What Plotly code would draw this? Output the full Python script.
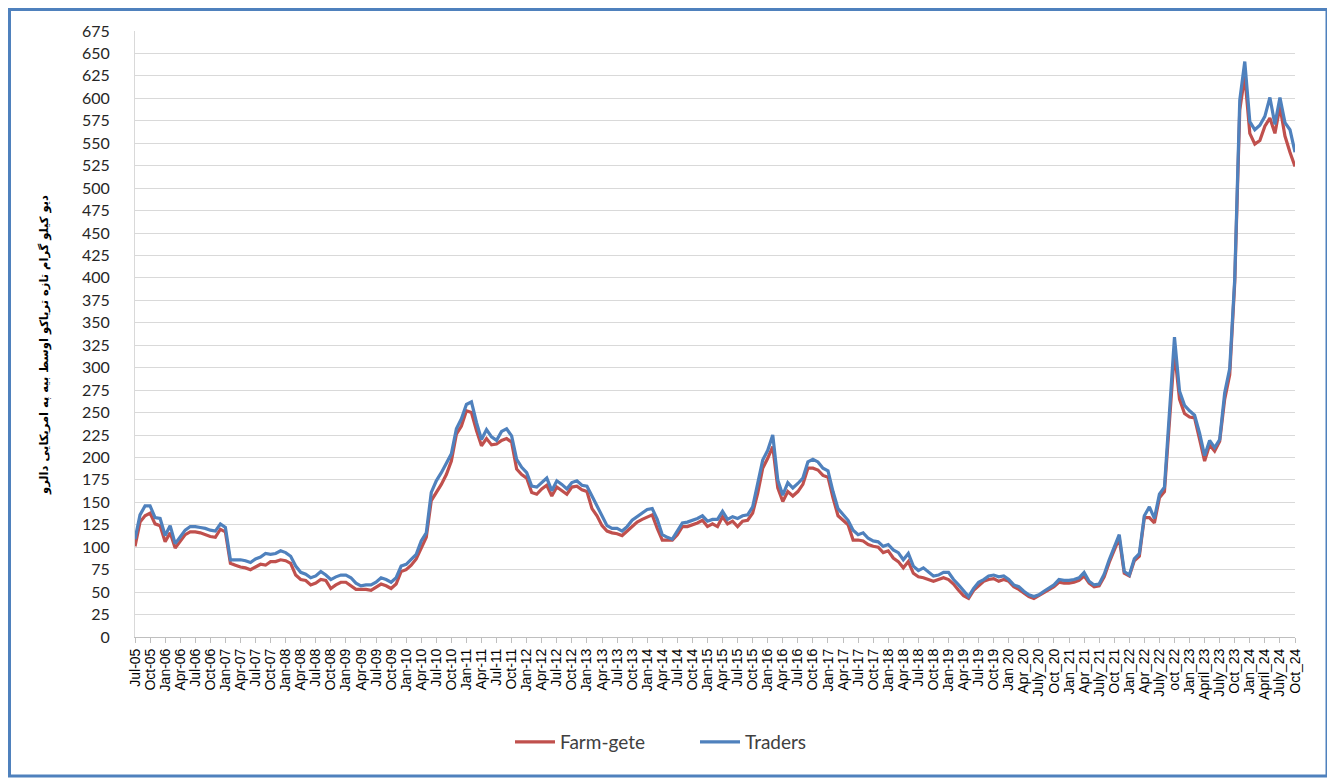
import plotly.graph_objects as go
import pandas as pd

# Monthly categories Jul-2005 .. Oct-2024
months = [d.strftime("%Y-%m") for d in pd.date_range("2005-07-01", "2024-10-01", freq="MS")]

tick_labels = [
    "Jul-05", "Oct-05",
    "Jan-06", "Apr-06", "Jul-06", "Oct-06",
    "Jan-07", "Apr-07", "Jul-07", "Oct-07",
    "Jan-08", "Apr-08", "Jul-08", "Oct-08",
    "Jan-09", "Apr-09", "Jul-09", "Oct-09",
    "Jan-10", "Apr-10", "Jul-10", "Oct-10",
    "Jan-11", "Apr-11", "Jul-11", "Oct-11",
    "Jan-12", "Apr-12", "Jul-12", "Oct-12",
    "Jan-13", "Apr-13", "Jul-13", "Oct-13",
    "Jan-14", "Apr-14", "Jul-14", "Oct-14",
    "Jan-15", "Apr-15", "Jul-15", "Oct-15",
    "Jan-16", "Apr-16", "Jul-16", "Oct-16",
    "Jan-17", "Apr-17", "Jul-17", "Oct-17",
    "Jan-18", "Apr-18", "Jul-18", "Oct-18",
    "Jan-19", "Apr-19", "Jul-19", "Oct-19",
    "Jan 20", "Apr_20", "July_20", "Oct_20",
    "Jan_21", "Apr_21", "July_21", "Oct_21",
    "Jan_22", "Apr_22", "July_22", "oct_22",
    "Jan_23", "April_23", "July_23", "Oct_23",
    "Jan_24", "April_24", "July_24", "Oct_24",
]

farm_gate = [
    101, 128, 135, 138, 126, 124, 106, 116, 99, 106, 114, 117, 117, 116, 114, 112, 111, 120, 117, 82,
    80, 78, 77, 75, 78, 81, 80, 84, 84, 86, 85, 82, 69, 64, 63, 58, 60, 64, 63, 54,
    58, 61, 61, 57, 53, 53, 53, 52, 55, 59, 57, 54, 59, 73, 75, 80, 87, 100, 111, 152,
    161, 170, 181, 196, 226, 235, 252, 250, 230, 213, 221, 214, 215, 219, 221, 217, 187, 181, 177, 161,
    159, 165, 169, 157, 167, 163, 159, 167, 168, 164, 162, 143, 135, 124, 118, 116, 115, 113, 118, 124,
    128, 131, 134, 136, 121, 108, 108, 108, 114, 123, 123, 125, 127, 130, 123, 126, 123, 134, 126, 129,
    123, 129, 130, 138, 160, 188, 199, 212, 166, 151, 162, 157, 162, 170, 188, 188, 186, 180, 178, 155,
    135, 130, 125, 108, 108, 107, 103, 101, 100, 94, 96, 88, 84, 77, 84, 71, 67, 66, 64, 62,
    64, 66, 64, 59, 52, 46, 43, 52, 57, 62, 64, 65, 62, 64, 62, 56, 53, 49, 45, 43,
    46, 50, 53, 56, 61, 60, 60, 61, 63, 68, 60, 56, 57, 67, 83, 96, 110, 71, 68, 85,
    90, 133, 133, 127, 155, 162, 245, 318, 265, 249, 245, 244, 220, 196, 214, 207, 218, 265, 292, 395,
    587, 625, 561, 549, 553, 569, 578, 561, 591, 558, 540, 524,
]

traders = [
    109, 136, 146, 146, 133, 132, 113, 124, 104, 112, 119, 123, 123, 122, 121, 119, 118, 126, 122, 86,
    86, 86, 85, 83, 87, 89, 93, 92, 93, 96, 94, 90, 79, 72, 70, 66, 68, 73, 69, 64,
    67, 69, 69, 66, 60, 57, 58, 58, 61, 66, 64, 61, 66, 79, 81, 87, 92, 107, 116, 161,
    174, 183, 193, 204, 232, 243, 259, 262, 239, 220, 231, 223, 219, 229, 232, 224, 198, 189, 183, 168,
    167, 172, 177, 163, 174, 170, 165, 172, 174, 169, 168, 157, 146, 135, 124, 121, 121, 118, 123, 130,
    134, 138, 142, 143, 131, 114, 111, 109, 118, 127, 128, 130, 132, 135, 129, 131, 131, 140, 131, 134,
    132, 135, 136, 145, 170, 197, 208, 225, 175, 158, 172, 166, 171, 177, 195, 198, 195, 188, 185, 162,
    143, 136, 130, 119, 114, 116, 110, 107, 106, 101, 103, 97, 94, 86, 93, 79, 74, 77, 73, 68,
    69, 72, 72, 64, 58, 51, 45, 54, 61, 64, 68, 69, 67, 68, 64, 58, 56, 51, 47, 45,
    47, 51, 54, 58, 64, 63, 63, 64, 66, 72, 62, 58, 59, 70, 86, 100, 114, 73, 69, 87,
    93, 135, 145, 132, 159, 167, 252, 334, 274, 258, 252, 247, 227, 202, 219, 211, 220, 272, 299, 399,
    598, 641, 574, 565, 570, 580, 601, 571, 601, 573, 565, 540,
]

y_title = "دیو کیلو گرام تازه تریاکو اوسط بیه په امریکایی دالرو"

# The page body has an 8px margin, so the figure is laid out in page px minus 8.
OFF = 8
W, H = 1335 - OFF, 780 - OFF
L, T = 135 - OFF, 31 - OFF
R = W - (1295 - OFF)
B = H - (637 - OFF)
pw, ph = W - L - R, H - T - B

def px_x(xp):
    return (xp - OFF - L) / pw

def px_y(yp):
    return (H - B - (yp - OFF)) / ph

fig = go.Figure()
fig.add_trace(go.Scatter(
    x=months, y=farm_gate, name="Farm-gete", mode="lines",
    line=dict(color="#C0504D", width=3.2),
))
fig.add_trace(go.Scatter(
    x=months, y=traders, name="Traders", mode="lines",
    line=dict(color="#4F81BD", width=3.2),
))

fig.update_layout(
    width=W, height=H,
    margin=dict(l=L, r=R, t=T, b=B, pad=0),
    paper_bgcolor="white", plot_bgcolor="white",
    showlegend=True,
    legend=dict(
        orientation="h", x=px_x(510), y=px_y(742), xanchor="left", yanchor="middle",
        font=dict(family="Lato, Open Sans, sans-serif", size=19, color="#404040"),
        entrywidth=130, entrywidthmode="pixels",
        itemwidth=40, traceorder="normal",
    ),
    font=dict(family="Liberation Sans, Arial, sans-serif", color="#000000"),
)

fig.update_xaxes(
    type="category",
    range=[0, len(months) - 1],
    tickmode="array",
    tickvals=months[::3],
    ticktext=tick_labels,
    tickangle=-90,
    tickfont=dict(family="Liberation Sans, Arial, sans-serif", size=14, color="#000000"),
    showgrid=False,
    showline=True, linecolor="#BFBFBF", linewidth=1,
    ticks="outside", ticklen=5, tickcolor="#BFBFBF",
    zeroline=False,
)

fig.update_yaxes(
    range=[0, 675],
    tick0=0, dtick=25,
    showgrid=True, gridcolor="#D9D9D9", gridwidth=1,
    showline=True, linecolor="#D9D9D9", linewidth=1,
    zeroline=False,
    ticks="outside", ticklen=0,
    ticklabelstandoff=21,
    tickfont=dict(family="Lato, Open Sans, sans-serif", size=16, color="#262626"),
)

fig.add_annotation(
    text="<b>" + y_title + "</b>",
    xref="paper", yref="paper",
    x=px_x(45), y=px_y(345), xanchor="center", yanchor="middle",
    textangle=-90, showarrow=False,
    font=dict(family="DejaVu Sans, Noto Sans, sans-serif", size=11.5, color="#000000"),
)

fig.add_shape(
    type="rect", xref="paper", yref="paper",
    x0=px_x(9.5), x1=px_x(1327), y0=px_y(776), y1=px_y(9.5),
    line=dict(color="#4F81BD", width=3), fillcolor="rgba(0,0,0,0)", layer="above",
)

fig.write_html("out.html")
